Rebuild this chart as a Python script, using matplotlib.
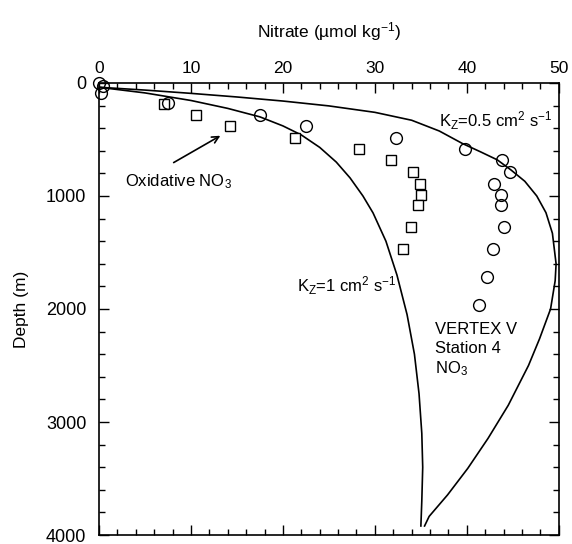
import matplotlib
matplotlib.use("Agg")
import matplotlib.pyplot as plt
from matplotlib.ticker import MultipleLocator

plt.rcParams['font.family'] = ['Liberation Sans', 'DejaVu Sans']
plt.rcParams['mathtext.fontset'] = 'custom'
plt.rcParams['mathtext.rm'] = 'Liberation Sans'
plt.rcParams['mathtext.it'] = 'Liberation Sans:italic'

# ---- observed nitrate (circles) ----
no3_depth = [0, 30, 85, 180, 285, 385, 487, 584, 684, 790, 890, 987, 1084, 1275, 1465, 1715, 1965]
no3_conc = [0, 0.4, 0.2, 7.5, 17.5, 22.5, 32.3, 39.8, 43.8, 44.7, 43.0, 43.7, 43.7, 44.0, 42.8, 42.2, 41.3]

# ---- oxidative nitrate (squares) ----
ox_depth = [182, 282, 385, 487, 584, 684, 790, 890, 987, 1084, 1275, 1471]
ox_conc = [7.1, 10.6, 14.3, 21.3, 28.3, 31.8, 34.1, 34.9, 35.0, 34.7, 33.9, 33.1]

# ---- model profile, Kz = 0.5 cm2/s ----
kz05_depth = [38, 63, 92, 124, 160, 203, 260, 330, 425, 535, 610, 680, 770, 870, 1000,
              1148, 1330, 1600, 1750, 2000, 2264, 2500, 2852, 3145, 3410, 3645, 3835, 3920]
kz05_conc = [0, 5, 10, 15, 20, 25, 30, 34, 37, 39.5, 41.5, 43.3, 44.8, 46.3, 47.6,
             48.6, 49.3, 49.7, 49.6, 49.1, 47.9, 46.7, 44.5, 42.3, 40.1, 37.9, 35.9, 35.4]

# ---- model profile, Kz = 1 cm2/s ----
kz1_depth = [38, 88, 155, 225, 300, 380, 460, 570, 700, 840, 1000, 1150, 1400, 1700,
             2050, 2400, 2750, 3100, 3400, 3700, 3920]
kz1_conc = [0, 5, 10, 14, 17.5, 20, 22, 24, 25.8, 27.3, 28.7, 29.8, 31.2, 32.4,
            33.5, 34.3, 34.8, 35.1, 35.2, 35.1, 35.0]

fig = plt.figure(figsize=(5.72, 5.44), dpi=100)
ax = fig.add_axes([0.173, 0.0165, 0.804, 0.831])

ax.plot(kz05_conc, kz05_depth, color='black', lw=1.2)
ax.plot(kz1_conc, kz1_depth, color='black', lw=1.2)
ax.plot(ox_conc, ox_depth, 's', mfc='white', mec='black', ms=6.5, mew=1.0, clip_on=False)
ax.plot(no3_conc, no3_depth, 'o', mfc='none', mec='black', ms=8.5, mew=1.0, clip_on=False)

ax.set_xlim(0, 50)
ax.set_ylim(4000, 0)
ax.xaxis.tick_top()
ax.xaxis.set_label_position('top')
ax.xaxis.set_major_locator(MultipleLocator(10))
ax.xaxis.set_minor_locator(MultipleLocator(2))
ax.yaxis.set_major_locator(MultipleLocator(1000))
ax.yaxis.set_minor_locator(MultipleLocator(200))
ax.tick_params(which='both', direction='in', top=True, bottom=True, left=True, right=True,
               width=1.0)
ax.tick_params(axis='x', which='major', labelsize=12.5, pad=5)
ax.tick_params(axis='y', which='major', labelsize=13, pad=9)
ax.tick_params(which='major', length=7)
ax.tick_params(which='minor', length=4)
for sp in ax.spines.values():
    sp.set_linewidth(1.2)

ax.set_xlabel('Nitrate (µmol kg$^{-1}$)', fontsize=12.5, labelpad=17)
ax.set_ylabel('Depth (m)', fontsize=12.5, labelpad=12)

ax.text(37, 335, 'K$_\\mathrm{Z}$=0.5 cm$^2$ s$^{-1}$', fontsize=12, va='center')
ax.text(21.5, 1795, 'K$_\\mathrm{Z}$=1 cm$^2$ s$^{-1}$', fontsize=12, va='center')
ax.text(36.5, 2115, 'VERTEX V\nStation 4\nNO$_3$', fontsize=12, va='top', linespacing=1.3)
ax.annotate('Oxidative NO$_3$', xy=(13.2, 467), xytext=(2.8, 873), fontsize=12, va='center',
            arrowprops=dict(arrowstyle='->', color='black', lw=1.2, shrinkA=10, shrinkB=0,
                            relpos=(0.3, 1.0)))

fig.savefig('out.png', dpi=100)
